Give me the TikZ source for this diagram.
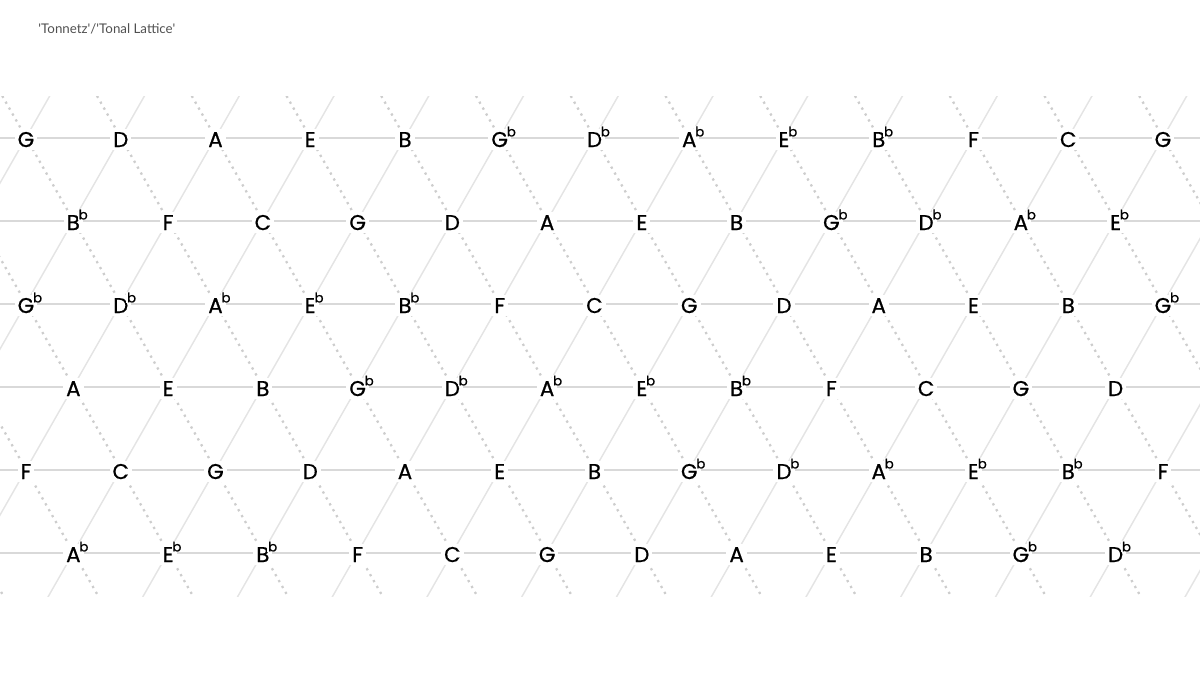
\documentclass[tikz,border=0pt]{standalone}
\usepackage{fontspec}
\newfontfamily\notefont{Poppins}[FakeBold=0.7]
\newfontfamily\titlefont{Lato}
\definecolor{hline}{HTML}{D9D9D9}
\definecolor{sline}{HTML}{E4E4E4}
\definecolor{dline}{HTML}{CDCDCD}
\definecolor{titlegray}{HTML}{505050}

\tikzset{every picture/.style={line width=0.75pt}}
\tikzset{
	note/.style={fill=white, inner sep=2.25pt, text height=11.25pt, text depth=0pt, font=\notefont\fontsize{16}{16}\selectfont},
	flatsign/.style={fill=white, inner sep=0.6pt, xshift=-4.5pt, yshift=-7pt, font=\notefont\fontsize{10}{10}\selectfont},
	nat/.style={},
	flat/.style={label={[flatsign]north east:b}},
	fifthline/.style={draw=hline, line width=1.5pt},
	majline/.style={draw=sline, line width=1.1pt},
	minline/.style={draw=dline, line width=1.7pt, dash pattern=on 1.7pt off 3.4pt},
}

\begin{document}
\begin{tikzpicture}[x=0.75pt,y=0.75pt,yscale=-1,xscale=1]
	\useasboundingbox (0,0) rectangle (1200,675);

	% Text Node
	\node[anchor=west, inner sep=0pt, text=titlegray, font=\titlefont\fontsize{10}{10}\selectfont] (title) at (38,29) {\textquotesingle Tonnetz\textquotesingle/\textquotesingle Tonal Lattice\textquotesingle};

	%Lattice lines (clipped band)
	\begin{scope}
		\clip (0,96.5) rectangle (1200,596.5);
		\foreach \k in {0,...,15}
			\draw[majline] ({26+94.75*\k+47.375},54.5) -- ({26+94.75*\k-47.375*6},635.5);
		\foreach \k in {-3,...,12}
			\draw[minline] ({26+94.75*\k-47.375},54.5) -- ({26+94.75*\k+47.375*6},635.5);
	\end{scope}
	%Straight Lines (rows of fifths)
	\foreach \r in {0,...,5}
		\draw[fifthline] (0,{137.5+83*\r}) -- (1200,{137.5+83*\r});

	% Note Nodes
	\foreach \r/\xo/\notes in {
		0/26/{G/nat,D/nat,A/nat,E/nat,B/nat,G/flat,D/flat,A/flat,E/flat,B/flat,F/nat,C/nat,G/nat},
		1/73.375/{B/flat,F/nat,C/nat,G/nat,D/nat,A/nat,E/nat,B/nat,G/flat,D/flat,A/flat,E/flat},
		2/26/{G/flat,D/flat,A/flat,E/flat,B/flat,F/nat,C/nat,G/nat,D/nat,A/nat,E/nat,B/nat,G/flat},
		3/73.375/{A/nat,E/nat,B/nat,G/flat,D/flat,A/flat,E/flat,B/flat,F/nat,C/nat,G/nat,D/nat},
		4/26/{F/nat,C/nat,G/nat,D/nat,A/nat,E/nat,B/nat,G/flat,D/flat,A/flat,E/flat,B/flat,F/nat},
		5/73.375/{A/flat,E/flat,B/flat,F/nat,C/nat,G/nat,D/nat,A/nat,E/nat,B/nat,G/flat,D/flat}}
		\foreach \n/\s [count=\c from 0] in \notes
			\node[note,\s] (n\r-\c) at ({\xo+94.75*\c},{139.5+83*\r}) {\n};

\end{tikzpicture}
\end{document}
